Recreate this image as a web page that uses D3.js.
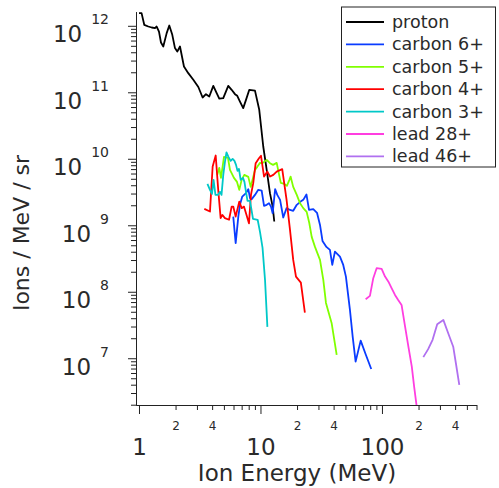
<!DOCTYPE html>
<html lang="en">
<head>
  <meta charset="utf-8">
  <script src="https://d3js.org/d3.v7.min.js"></script>
  <style>
    body { margin: 0; background: #fff; }
    text { font-family: "DejaVu Sans", sans-serif; fill: #2a2a2a; }
  </style>
</head>
<body>
<script>
  // ion spectra, log-log plot

  // data: [energy (MeV), ions / MeV / sr]
  const proton = [[1.0,1.55e12],[1.05,1.55e12],[1.105,1.035e12],[1.193,9.76e11],[1.272,9.43e11],[1.354,9.23e11],[1.398,9.76e11],[1.461,8.2e11],[1.517,5.61e11],[1.585,4.89e11],[1.69,7.76e11],[1.776,1.01e12],[1.88,7.32e11],[1.978,4.62e11],[2.066,4.1e11],[2.175,4.89e11],[2.345,2.44e11],[2.545,1.94e11],[2.80,1.54e11],[3.08,1.2e11],[3.34,8.35e10],[3.56,9.37e10],[3.79,8.63e10],[4.09,1.25e11],[4.36,9.7e10],[4.58,8.05e10],[4.94,8.17e10],[5.43,1.25e11],[5.79,1.09e11],[6.17,9.37e10],[6.44,8.85e10],[6.78,7.26e10],[7.21,5.78e10],[7.60,7.7e10],[8.09,1.09e11],[9.01,1.06e11],[9.77,5.45e10],[10.54,1.53e10],[11.25,6.81e9],[11.97,3.04e9],[12.6,1.91e9],[12.99,1.14e9]];
  const carbon6 = [[5.97,1.35e9],[6.25,5.38e8],[6.57,1.35e9],[6.78,2.03e9],[7.08,2.70e9],[7.60,3.04e9],[7.94,3.49e9],[8.20,2.56e9],[8.47,2.47e9],[9.01,2.86e9],[9.59,3.41e9],[10.23,3.33e9],[10.7,1.96e9],[11.25,2.03e9],[11.75,2.15e9],[12.2,1.91e9],[12.6,1.52e9],[13.2,3.49e9],[13.75,2.86e9],[14.5,2.41e9],[15.4,1.31e9],[16.4,1.81e9],[17.5,1.70e9],[18.6,1.65e9],[19.9,2.03e9],[21.4,2.27e9],[22.5,2.41e9],[23.9,2.91e9],[25.1,1.70e9],[27.2,1.75e9],[29.2,1.54e9],[30.9,1.01e9],[32.4,5.82e8],[34.9,4.73e8],[37.3,4.26e8],[39.0,2.53e8],[41.0,4.02e8],[45.1,3.38e8],[48.0,2.53e8],[50.5,1.69e8],[54.5,5.33e7],[57.4,2.11e7],[60.7,8.89e6],[66.8,1.84e7],[73.8,1.12e7],[81.6,6.90e6]];
  const carbon5 = [[4.41,5.73e9],[4.58,7.30e9],[4.73,5.16e9],[5.01,1.07e10],[5.40,1.03e10],[5.61,6.81e9],[6.05,5.16e9],[6.41,4.49e9],[6.69,3.41e9],[7.00,4.82e9],[7.36,5.73e9],[7.94,5.35e9],[8.31,3.78e9],[9.01,6.81e9],[9.41,7.56e9],[9.91,8.68e9],[10.4,8.59e9],[11.25,9.63e9],[11.97,8.59e9],[12.7,8.10e9],[13.6,8.68e9],[14.3,5.53e9],[14.7,4.34e9],[15.7,4.19e9],[16.5,3.91e9],[17.3,4.82e9],[17.7,5.40e9],[18.6,3.78e9],[19.9,2.86e9],[21.1,2.17e9],[22.5,1.81e9],[24.0,1.59e9],[25.2,1.09e9],[26.4,6.69e8],[28.1,4.73e8],[30.9,3.01e8],[32.9,1.51e8],[34.6,6.79e7],[38.5,3.40e7],[42.4,1.12e7]];
  const carbon4 = [[3.45,1.76e9],[3.84,1.61e9],[4.04,7.64e9],[4.28,1.12e10],[4.49,3.41e9],[4.70,1.28e9],[4.85,1.43e9],[5.10,1.28e9],[5.51,1.21e9],[5.79,1.91e9],[5.97,1.91e9],[6.25,1.35e9],[6.69,2.27e9],[7.00,1.81e9],[7.31,1.91e9],[7.60,1.52e9],[8.04,1.07e9],[8.35,2.86e9],[8.72,4.30e9],[9.13,8.59e9],[9.72,1.02e10],[10.1,1.11e10],[10.7,5.40e9],[11.4,6.42e9],[12.0,5.40e9],[12.75,5.73e9],[13.6,6.42e9],[15.1,6.98e9],[16.4,2.41e9],[17.5,8.52e8],[18.6,3.01e8],[19.6,1.69e8],[21.5,1.37e8],[23.2,4.85e7]];
  const carbon3 = [[3.66,4.19e9],[3.84,3.41e9],[3.99,2.97e9],[4.11,4.82e9],[4.26,2.86e9],[4.47,2.86e9],[4.64,3.18e9],[4.78,2.86e9],[4.94,5.73e9],[5.10,8.99e9],[5.25,1.25e10],[5.45,1.07e10],[5.68,9.30e9],[5.90,9.97e9],[6.11,9.30e9],[6.29,8.10e9],[6.47,6.58e9],[6.65,7.05e9],[6.87,4.82e9],[7.18,5.16e9],[7.38,4.49e9],[7.60,3.18e9],[7.82,2.33e9],[8.20,2.33e9],[8.68,1.25e9],[9.48,1.21e9],[9.91,7.95e8],[10.4,4.57e8],[10.9,1.51e8],[11.4,2.96e7]];
  const lead28 = [[73.4,7.72e7],[79.6,8.66e7],[84.8,1.60e8],[90.4,2.26e8],[99.4,2.21e8],[106,1.69e8],[113,1.42e8],[120,1.13e8],[128,8.96e7],[136,7.54e7],[145,6.34e7],[155,2.99e7],[165,1.49e7],[176,7.47e6],[184,3.74e6],[193,1.9e6]];
  const lead46 = [[219,1.04e7],[240,1.37e7],[261,1.89e7],[285,3.25e7],[320,3.77e7],[351,2.38e7],[386,1.49e7],[406,8.41e6],[433,3.97e6]];

  const seriesNames = ["proton", "carbon 6+", "carbon 5+", "carbon 4+", "carbon 3+", "lead 28+", "lead 46+"];
  const seriesData = [proton, carbon6, carbon5, carbon4, carbon3, lead28, lead46];
  const seriesColors = ["#000000", "#0a3cff", "#80ff00", "#ff0000", "#00c8c8", "#ff3ee0", "#b070f0"];

  // axis ticks
  const xMajorTicks = [1, 10, 100];
  const xMinorLabels = [2, 4, 20, 40, 200, 400];
  const yExponents = [7, 8, 9, 10, 11, 12];

  const width = 499, height = 488;
  const xDomain = [0.945, 600];
  const yDomain = [1.98e6, 1.63e12];
  const plotL = 136, plotR = 476.5, plotT = 11.7, plotB = 405;

  const x = d3.scaleLog().domain(xDomain).range([plotL, plotR]);
  const y = d3.scaleLog().domain(yDomain).range([plotB, plotT]);

  const svg = d3.select("body").append("svg")
    .attr("width", width)
    .attr("height", height);

  // minor ticks 2..9 in every decade
  const minor = (lo, hi) => {
    const out = [];
    for (let e = Math.floor(Math.log10(lo)); e <= Math.ceil(Math.log10(hi)); e++) {
      for (let m = 2; m <= 9; m++) {
        const v = m * Math.pow(10, e);
        if (v >= lo * 0.999 && v <= hi * 1.001) out.push(v);
      }
    }
    return out;
  };

  // X axis
  const gxMinor = svg.append("g")
    .attr("transform", "translate(0," + plotB + ")")
    .call(d3.axisBottom(x).tickValues(minor(xDomain[0], xDomain[1]))
      .tickSize(5).tickSizeOuter(0).tickPadding(11)
      .tickFormat(d => xMinorLabels.some(v => Math.abs(v - d) < 1e-6) ? d3.format("d")(d).charAt(0) : ""));
  gxMinor.selectAll("text").attr("font-size", 12);

  const gxMajor = svg.append("g")
    .attr("transform", "translate(0," + plotB + ")")
    .call(d3.axisBottom(x).tickValues(xMajorTicks)
      .tickSize(9).tickSizeOuter(0).tickPadding(25)
      .tickFormat(d3.format("d")));
  gxMajor.selectAll("text").attr("font-size", 23);

  // Y axis
  svg.append("g")
    .attr("transform", "translate(" + plotL + ",0)")
    .call(d3.axisLeft(y).tickValues(minor(yDomain[0], yDomain[1]))
      .tickSize(5).tickSizeOuter(0).tickFormat(""));

  const gyMajor = svg.append("g")
    .attr("transform", "translate(" + plotL + ",0)")
    .call(d3.axisLeft(y).tickValues(yExponents.map(e => Math.pow(10, e)))
      .tickSize(8).tickSizeOuter(0).tickFormat(""));

  gyMajor.selectAll(".tick").each(function(d) {
    const t = d3.select(this).append("text")
      .attr("x", -27)
      .attr("y", 16)
      .attr("text-anchor", "end");
    t.append("tspan").attr("font-size", 23).text("10");
    t.append("tspan").attr("font-size", 14).attr("dx", 9).attr("dy", -18)
      .text(Math.round(Math.log10(d)));
  });

  svg.selectAll(".domain").attr("stroke", "#222");
  svg.selectAll(".tick line").attr("stroke", "#222");
  svg.selectAll(".tick text").attr("fill", null);

  // axis titles
  svg.append("text")
    .attr("x", 297)
    .attr("y", 481)
    .attr("text-anchor", "middle")
    .attr("font-size", 23)
    .text("Ion Energy (MeV)");

  svg.append("text")
    .attr("transform", "translate(29,233) rotate(-90)")
    .attr("text-anchor", "middle")
    .attr("font-size", 22)
    .text("Ions / MeV / sr");

  // clip to plot area
  svg.append("clipPath").attr("id", "plot")
    .append("rect")
    .attr("x", plotL).attr("y", plotT)
    .attr("width", plotR - plotL).attr("height", plotB - plotT);

  const line = d3.line()
    .x(d => x(d[0]))
    .y(d => y(d[1]));

  svg.append("g")
    .attr("clip-path", "url(#plot)")
    .selectAll("path")
    .data(seriesData)
    .enter().append("path")
    .attr("fill", "none")
    .attr("stroke", (d, i) => seriesColors[i])
    .attr("stroke-width", 1.8)
    .attr("stroke-linejoin", "round")
    .attr("d", line);

  // legend
  const legend = svg.append("g");
  legend.append("rect")
    .attr("x", 341.5).attr("y", 7)
    .attr("width", 154).attr("height", 160)
    .attr("fill", "#fff")
    .attr("stroke", "#222");

  const rows = legend.selectAll("g.row")
    .data(seriesNames)
    .enter().append("g")
    .attr("class", "row")
    .attr("transform", (d, i) => "translate(0," + (22 + i * 22.4) + ")");

  rows.append("line")
    .attr("x1", 346).attr("x2", 384)
    .attr("stroke", (d, i) => seriesColors[i])
    .attr("stroke-width", 1.8);

  rows.append("text")
    .attr("x", 392)
    .attr("y", 6)
    .attr("font-size", 17.5)
    .text(d => d);
</script>
</body>
</html>
